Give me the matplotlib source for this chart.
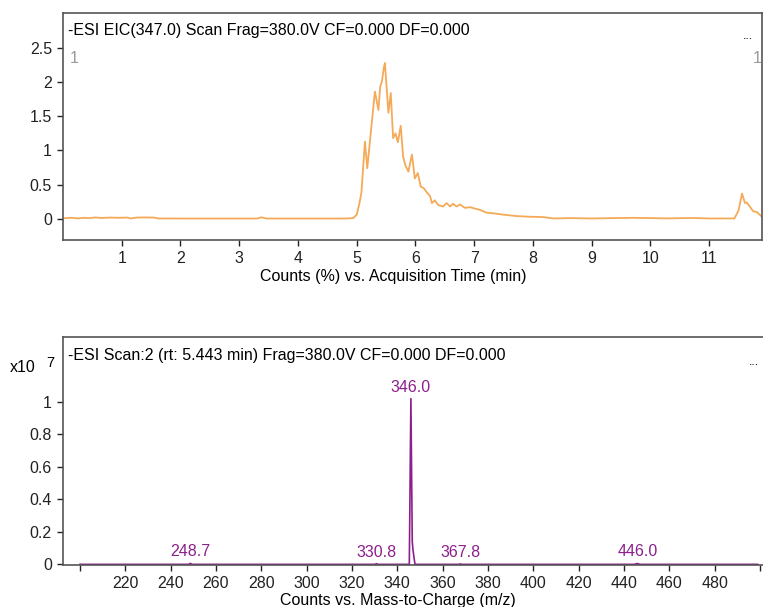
import matplotlib.pyplot as plt
import numpy as np

plt.rcParams["font.family"] = ["Liberation Sans", "DejaVu Sans"]

# EIC(347.0) chromatogram, counts in % vs acquisition time (min)
eic_time = [0.03, 0.15, 0.25, 0.35, 0.45, 0.55, 0.65, 0.80, 0.95, 1.10, 1.15, 1.25, 1.40, 1.55, 1.62,
            2.0, 2.5, 3.0, 3.30, 3.38, 3.46, 3.8, 4.3, 4.80, 4.94,
            5.00, 5.04, 5.08, 5.14, 5.18, 5.24, 5.31, 5.37, 5.40, 5.43, 5.46, 5.48,
            5.54, 5.58, 5.62, 5.66, 5.70, 5.75, 5.79, 5.83, 5.88, 5.94, 5.99, 6.04, 6.09,
            6.14, 6.20, 6.25, 6.28, 6.33, 6.39, 6.47, 6.53, 6.59, 6.64, 6.70, 6.76, 6.84,
            6.93, 7.01, 7.10, 7.21, 7.33, 7.50, 7.72, 7.95, 8.18, 8.35,
            8.65, 9.0, 9.5, 9.7, 9.9, 10.3, 10.7, 11.0, 11.30, 11.43,
            11.50, 11.56, 11.61, 11.64, 11.70, 11.75, 11.81, 11.90]
eic_counts = [0.01, 0.015, 0.005, 0.015, 0.01, 0.02, 0.012, 0.018, 0.015, 0.018, 0.005, 0.018, 0.02, 0.018, 0.005,
              0.004, 0.004, 0.004, 0.004, 0.022, 0.004, 0.004, 0.004, 0.004, 0.01,
              0.06, 0.2, 0.38, 1.13, 0.74, 1.26, 1.86, 1.59, 1.93, 2.01, 2.20, 2.28,
              1.55, 1.84, 1.18, 1.25, 1.12, 1.36, 0.91, 0.78, 0.69, 0.94, 0.59, 0.67, 0.47,
              0.45, 0.38, 0.33, 0.23, 0.27, 0.20, 0.18, 0.23, 0.18, 0.22, 0.18, 0.21, 0.16,
              0.17, 0.15, 0.13, 0.09, 0.08, 0.06, 0.04, 0.03, 0.025, 0.005,
              0.01, 0.005, 0.012, 0.014, 0.012, 0.006, 0.012, 0.005, 0.005, 0.005,
              0.12, 0.37, 0.23, 0.24, 0.17, 0.11, 0.10, 0.03]

# MS scan at rt 5.443 min, counts (x10^7) vs m/z
ms_mz = [200.0, 248.0, 248.7, 249.4, 330.2, 330.8, 331.4, 345.3, 346.0, 346.6, 346.9, 347.8,
         367.3, 367.8, 368.3, 444.5, 446.0, 447.0, 499.0]
ms_counts = [0.0, 0.0, 0.006, 0.0, 0.0, 0.004, 0.0, 0.0, 1.02, 0.14, 0.09, 0.0,
             0.0, 0.003, 0.0, 0.0, 0.005, 0.0, 0.0]
ms_labels = [248.7, 330.8, 346.0, 367.8, 446.0]

orange = "#F5AA58"
purple = "#8C1F8C"
frame = "#555555"
fs = 11.5

fig = plt.figure(figsize=(7.63, 6.07), dpi=100)
W, H = 763, 607


def px_axes(left, top, right, bottom):
    return fig.add_axes([left / W, 1 - bottom / H, (right - left) / W, (bottom - top) / H])


def style(ax):
    for s in ax.spines.values():
        s.set_color(frame)
        s.set_linewidth(1.2)
    ax.tick_params(direction="out", length=4, width=1, colors="#222222", labelsize=fs)
    ax.tick_params(axis="y", pad=4)
    ax.tick_params(axis="x", pad=4)


# chromatogram panel
ax1 = px_axes(63, 13, 762, 240)
style(ax1)
ax1.plot(eic_time, eic_counts, color=orange, lw=1.3)
ax1.set_xlim(0.0, 11.9)
ax1.set_ylim(-0.31, 3.01)
ax1.set_xticks(range(1, 12))
ax1.set_yticks([0, 0.5, 1, 1.5, 2, 2.5])
ax1.set_yticklabels(["0", "0.5", "1", "1.5", "2", "2.5"])
ax1.text(5 / 699, 0.925, "-ESI EIC(347.0) Scan Frag=380.0V CF=0.000 DF=0.000",
         transform=ax1.transAxes, fontsize=fs, va="center", ha="left")
ax1.text(7 / 699, 0.80, "1", transform=ax1.transAxes, fontsize=fs, color="#999999", va="center")
ax1.text(0.98, 0.90, "...", transform=ax1.transAxes, fontsize=9, va="center", ha="center")
ax1.text(0.9995, 0.80, "1", transform=ax1.transAxes, fontsize=fs, color="#999999",
         va="center", ha="right")
fig.text(393 / W, 1 - 277 / H, "Counts (%) vs. Acquisition Time (min)", fontsize=fs,
         ha="center", va="center")

# mass spectrum panel
ax2 = px_axes(63, 337, 764, 565)
style(ax2)
ax2.spines["right"].set_visible(False)
ax2.plot(ms_mz, ms_counts, color=purple, lw=1.2)
ax2.set_xlim(192.5, 501.8)
ax2.set_ylim(-0.004, 1.40)
ax2.set_xticks(range(200, 501, 20))
ax2.set_xticklabels(["" if v in (200, 500) else str(v) for v in range(200, 501, 20)])
ax2.set_yticks([0, 0.2, 0.4, 0.6, 0.8, 1])
ax2.set_yticklabels(["0", "0.2", "0.4", "0.6", "0.8", "1"])
for mz in ms_labels:
    h = ms_counts[ms_mz.index(mz)]
    ax2.annotate(f"{mz:.1f}", (mz, h), xytext=(0, 3), textcoords="offset points",
                 ha="center", va="bottom", color=purple, fontsize=fs)
ax2.text(5 / 701, 0.92, "-ESI Scan:2 (rt: 5.443 min) Frag=380.0V CF=0.000 DF=0.000",
         transform=ax2.transAxes, fontsize=fs, va="center", ha="left")
ax2.text(0.985, 0.89, "...", transform=ax2.transAxes, fontsize=9, va="center", ha="center")
fig.text(23 / W, 1 - 368 / H, "x10", fontsize=fs, ha="center", va="center")
fig.text(50 / W, 1 - 363 / H, "7", fontsize=fs - 1, ha="center", va="center")
fig.text(398 / W, 1 - 600 / H, "Counts vs. Mass-to-Charge (m/z)", fontsize=fs,
         ha="center", va="center")

fig.savefig("out.png", dpi=100)
